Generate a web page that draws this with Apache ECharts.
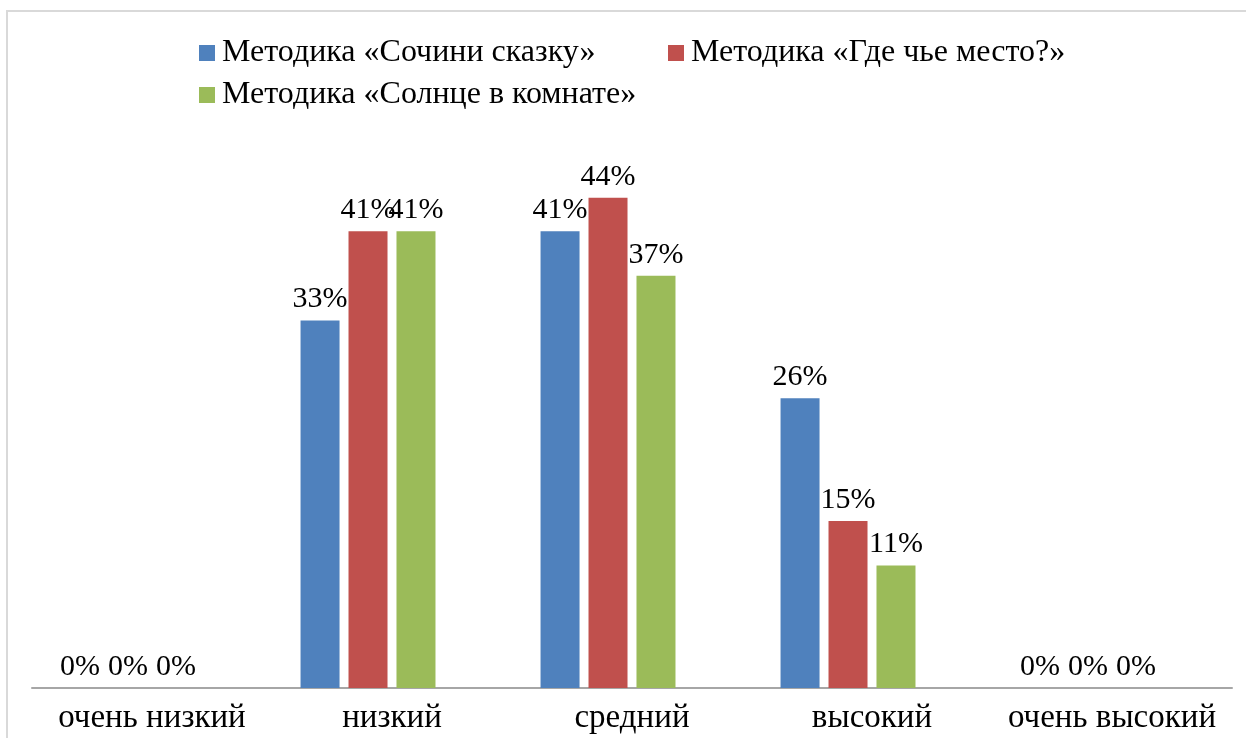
<!DOCTYPE html>
<html>
<head>
<meta charset="utf-8">
<script src="https://cdn.jsdelivr.net/npm/echarts@6/dist/echarts.min.js"></script>
<style>
  html, body { margin: 0; padding: 0; background: #fff; }
  #chart { width: 1246px; height: 738px; }
</style>
</head>
<body>
<div id="chart"></div>
<script>
const categories = ["очень низкий", "низкий", "средний", "высокий", "очень высокий"];
const seriesNames = ["Методика «Сочини сказку»", "Методика «Где чье место?»", "Методика «Солнце в комнате»"];
const skazka = [0, 33, 41, 26, 0];
const mesto = [0, 41, 44, 15, 0];
const solnce = [0, 41, 37, 11, 0];
// empty fourth series (the original chart has a blank slot on the right of each group)
const blank = [null, null, null, null, null];
const colors = ["#4f81bd", "#c0504d", "#9bbb59"];

const font = "'Liberation Serif', 'Times New Roman', serif";

const chart = echarts.init(document.getElementById("chart"));

function barSeries(name, data, color) {
  return {
    name: name,
    type: "bar",
    data: data,
    barWidth: 39,
    barGap: "23%",
    itemStyle: { color: color },
    label: {
      show: true,
      position: "top",
      distance: 6,
      formatter: "{c}%",
      color: "#000",
      fontFamily: font,
      fontSize: 30,
    },
  };
}

function legendAt(name, left, top) {
  return {
    data: [name],
    left: left,
    top: top,
    padding: 0,
    itemWidth: 16,
    itemHeight: 16,
    itemGap: 0,
    icon: "rect",
    textStyle: { fontFamily: font, fontSize: 32, color: "#000", padding: [0, 0, 0, 2] },
  };
}

const option = {
  animation: false,
  color: colors,
  legend: [
    legendAt(seriesNames[0], 199, 37),
    legendAt(seriesNames[1], 668, 37),
    legendAt(seriesNames[2], 199, 79),
  ],
  grid: { left: 32, right: 14, top: 131, bottom: 50 },
  xAxis: {
    type: "category",
    data: categories,
    axisLine: { lineStyle: { color: "#a6a6a6", width: 2 } },
    axisTick: { show: false },
    axisLabel: { interval: 0, fontFamily: font, fontSize: 33, color: "#000", margin: 14 },
  },
  yAxis: {
    type: "value",
    min: 0,
    max: 50,
    show: false,
    splitLine: { show: false },
  },
  graphic: [
    {
      type: "rect",
      shape: { x: 7, y: 11, width: 1300, height: 800 },
      style: { fill: "none", stroke: "#d9d9d9", lineWidth: 2 },
      silent: true,
    },
  ],
  series: [
    barSeries(seriesNames[0], skazka, colors[0]),
    barSeries(seriesNames[1], mesto, colors[1]),
    barSeries(seriesNames[2], solnce, colors[2]),
    { name: "blank", type: "bar", data: blank, barWidth: 39, barGap: "23%" },
  ],
};

chart.setOption(option);
</script>
</body>
</html>
